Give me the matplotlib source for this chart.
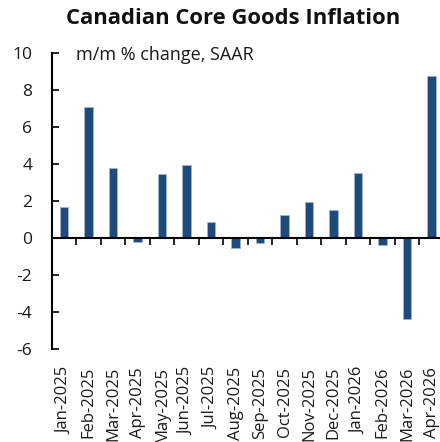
import matplotlib
matplotlib.use("Agg")
import matplotlib.pyplot as plt
import numpy as np

plt.rcParams['font.family'] = ['Open Sans', 'DejaVu Sans']

months = ["Jan-2025", "Feb-2025", "Mar-2025", "Apr-2025", "May-2025", "Jun-2025",
          "Jul-2025", "Aug-2025", "Sep-2025", "Oct-2025", "Nov-2025", "Dec-2025",
          "Jan-2026", "Feb-2026", "Mar-2026", "Apr-2026"]
values = [1.64, 7.05, 3.77, -0.22, 3.44, 3.91, 0.83, -0.57, -0.30, 1.21, 1.93, 1.48,
          3.48, -0.38, -4.39, 8.74]
yticks = [-6, -4, -2, 0, 2, 4, 6, 8, 10]

fig = plt.figure(figsize=(4.4, 4.42), dpi=100)
ax = fig.add_axes([51.75/440, 0.211, 392/440, 0.881-0.211])

x = np.arange(len(months))
ax.bar(x, values, width=0.34, color='#1f4a7c', edgecolor='#9db4cf', linewidth=0.6)

ax.set_xlim(-0.5, len(months) - 0.5)
ax.set_ylim(-6, 10)
ax.set_yticks(yticks)
ax.set_yticklabels([str(v) for v in yticks], fontsize=12.5, color='#1a1a1a')
ax.tick_params(axis='y', direction='in', length=5, width=1.2, pad=14)

ax.spines['top'].set_visible(False)
ax.spines['right'].set_visible(False)
ax.spines['left'].set_linewidth(1.5)
ax.spines['bottom'].set_position(('data', 0))
ax.spines['bottom'].set_linewidth(1.5)

ax.set_xticks(x[:-1] + 0.5)
ax.tick_params(axis='x', direction='out', length=5, width=1.2, labelbottom=False)

sec = ax.secondary_xaxis(0.0)
sec.set_xticks(x)
sec.set_xticklabels(months, rotation=90, fontsize=12, color='#1a1a1a')
sec.tick_params(length=0, pad=13)
sec.spines['bottom'].set_visible(False)

ax.text(76/440, 1 - 55/442, "m/m % change, SAAR", transform=fig.transFigure,
        fontsize=13, ha='left', va='center', color='#1a1a1a')
fig.text(233/440, 1 - 19/442, "Canadian Core Goods Inflation", fontsize=15.8,
         fontweight='bold', ha='center', va='center', color='#111111')

fig.savefig("out.png", dpi=100)
